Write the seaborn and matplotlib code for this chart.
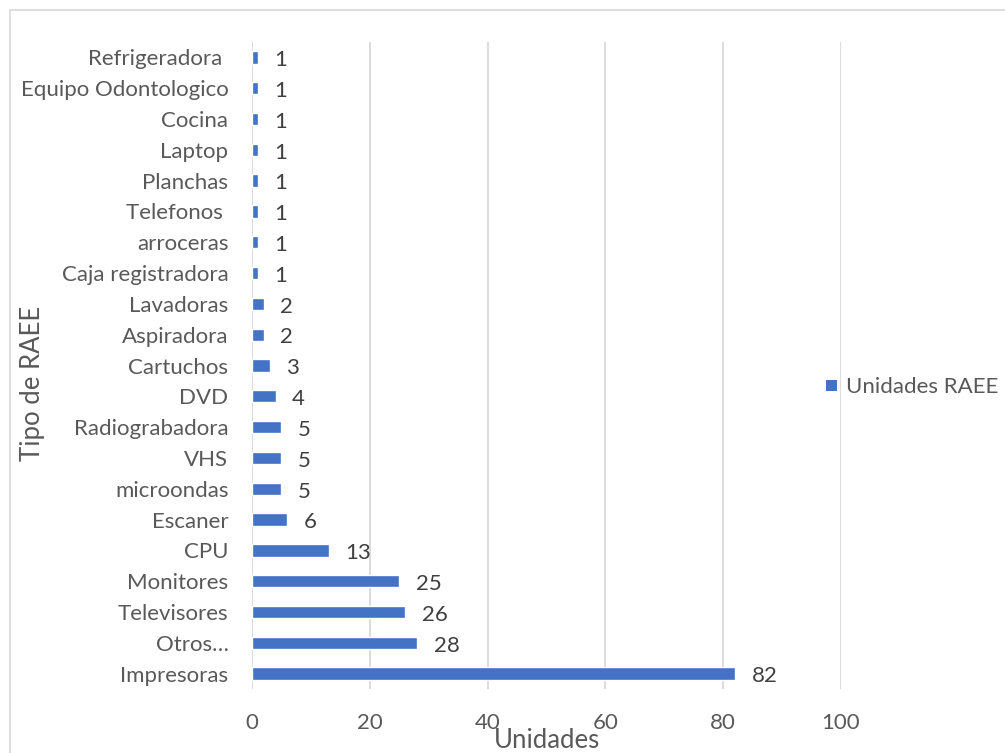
import matplotlib
matplotlib.use("Agg")
import matplotlib.pyplot as plt
import seaborn as sns
import pandas as pd
from matplotlib.patches import Rectangle

categories = ["Refrigeradora ", "Equipo Odontologico", "Cocina", "Laptop", "Planchas",
              "Telefonos ", "arroceras", "Caja registradora", "Lavadoras", "Aspiradora",
              "Cartuchos", "DVD", "Radiograbadora", "VHS", "microondas", "Escaner",
              "CPU", "Monitores", "Televisores", "Otros…", "Impresoras"]
values = [1, 1, 1, 1, 1, 1, 1, 1, 2, 2, 3, 4, 5, 5, 5, 6, 13, 25, 26, 28, 82]
x_ticks = [0, 20, 40, 60, 80, 100]
series_name = "Unidades RAEE"

df = pd.DataFrame({"cat": categories, "val": values})

sns.set_style("white")
plt.rcParams['font.family'] = ['Lato', 'DejaVu Sans']

fig = plt.figure(figsize=(10.05, 7.53), dpi=100)
ax = fig.add_axes([252/1005, 1 - 689/753, (841-252)/1005, (689-42)/753])

blue = "#4472C4"
sns.barplot(data=df, y="cat", x="val", orient="h", color=blue, width=0.4,
            saturation=1, ax=ax, order=categories)

FS = 16
ax.set_xlim(0, 100)
ax.set_ylim(len(categories) - 0.5, -0.5)
ax.set_xticks(x_ticks)
ax.grid(axis="x", color="#d9d9d9", linewidth=1.3)
ax.set_axisbelow(True)
for s in ax.spines.values():
    s.set_visible(False)
ax.tick_params(axis="both", length=0, labelsize=FS, colors="#595959")
ax.tick_params(axis="y", pad=17)
ax.tick_params(axis="x", pad=17)
ax.axvline(0, color="#d9d9d9", linewidth=1.3, zorder=0)

for i, v in enumerate(values):
    ax.annotate(str(v), xy=(v, i), xytext=(12, -2), textcoords="offset points",
                va="center", ha="left", fontsize=FS, color="#404040")

ax.set_xlabel("")
ax.set_ylabel("")
fig.text(547/1005, 1 - 740/753, "Unidades", ha="center", va="center",
         fontsize=18.5, color="#595959")
fig.text(33/1005, 1 - 383/753, "Tipo de RAEE", ha="center", va="center",
         rotation=90, fontsize=18.5, color="#595959")

# legend
fig.patches.append(Rectangle((826/1005, 1 - 391/753), 11/1005, 11/753,
                             transform=fig.transFigure, facecolor=blue,
                             edgecolor="none"))
fig.text(846/1005, 1 - 387/753, series_name, ha="left", va="center",
         fontsize=FS, color="#595959")

# chart border
fig.patches.append(Rectangle((10/1005, -0.05), 1.1, 1 - 10/753 + 0.05,
                             transform=fig.transFigure, facecolor="none",
                             edgecolor="#d9d9d9", linewidth=1.2))

fig.savefig("out.png", dpi=100)
